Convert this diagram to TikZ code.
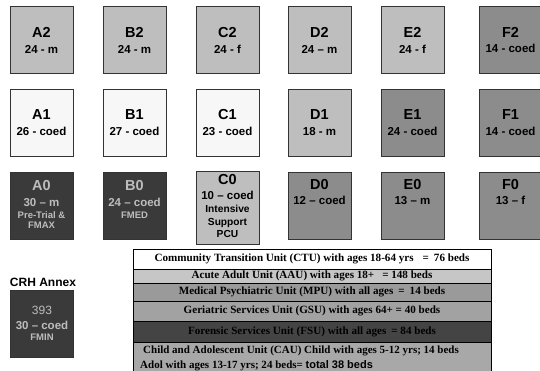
\documentclass[tikz,border=0pt]{standalone}
\usepackage{fontspec}
\setmainfont{Liberation Serif}
\setsansfont{Liberation Sans}
\usetikzlibrary{positioning}
\definecolor{paleunit}{HTML}{F7F7F7}
\definecolor{lightunit}{HTML}{BEBEBE}
\definecolor{midunit}{HTML}{8C8C8C}
\definecolor{darkunit}{HTML}{3A3A3A}
\definecolor{darktext}{HTML}{BDBDBD}
\definecolor{aaufill}{HTML}{C6C6C6}
\definecolor{mpufill}{HTML}{9A9A9A}
\definecolor{gsufill}{HTML}{A2A2A2}
\definecolor{fsufill}{HTML}{444444}
\definecolor{caufill}{HTML}{A8A8A8}
\newcommand{\unitname}{\fontsize{14.5}{14.5}\selectfont}
\newcommand{\unitnote}{\fontsize{9.5}{9.5}\selectfont}
\newcommand{\unitsmall}{\fontsize{10.2}{10.2}\selectfont}
\tikzset{
    unit/.style={draw=black!80, line width=0.8pt, minimum width=63pt, minimum height=67pt,
        inner sep=0pt, align=center, font=\sffamily\bfseries\fontsize{11.5}{12}\selectfont},
    paleu/.style={unit, fill=paleunit},
    lightu/.style={unit, fill=lightunit},
    midu/.style={unit, fill=midunit},
    darku/.style={unit, fill=darkunit, text=darktext},
    unittext/.style={inner sep=0pt, align=center, font=\sffamily\bfseries\fontsize{11.5}{12}\selectfont},
    wardrow/.style={draw=black, line width=0.8pt, minimum width=358pt, inner sep=0pt, outer sep=0pt,
        font=\rmfamily\bfseries\fontsize{11.1}{12}\selectfont}
}

\begin{document}
\begin{tikzpicture}[x=1pt, y=-1pt]
\useasboundingbox (0,0) rectangle (540,371);
\clip (0,0) rectangle (540,371);

\node[lightu] (A2) at (41.5,40) {\unitname A2\\[3.9pt]24 - m};
\node[lightu] (B2) at (134.5,40) {\unitname B2\\[3.9pt]24 - m};
\node[lightu] (C2) at (227.5,40) {\unitname C2\\[3.9pt]24 - f};
\node[lightu] (D2) at (319.5,40) {\unitname D2\\[3.9pt]24 – m};
\node[lightu] (E2) at (412.5,40) {\unitname E2\\[3.9pt]24 - f};
\node[midu] (F2) at (510.5,40) {\unitname F2\\[3.9pt]14 - coed};

\node[paleu] (A1) at (41.5,122.5) {\unitname A1\\[3.9pt]26 - coed};
\node[paleu] (B1) at (134.5,122.5) {\unitname B1\\[3.9pt]27 - coed};
\node[paleu] (C1) at (227.5,122.5) {\unitname C1\\[3.9pt]23 - coed};
\node[lightu] (D1) at (319.5,122.5) {\unitname D1\\[3.9pt]18 - m};
\node[midu] (E1) at (412.5,122.5) {\unitname E1\\[3.9pt]24 - coed};
\node[midu] (F1) at (510.5,122.5) {\unitname F1\\[3.9pt]14 - coed};

\node[darku] (A0) at (41.5,205.5) {};
\node[darku] (B0) at (134.5,205.5) {};
\node[lightu, minimum height=73pt] (C0) at (227.5,207.5) {};
\node[midu] (D0) at (319.5,205.5) {};
\node[midu] (E0) at (412.5,205.5) {};
\node[midu] (F0) at (510.5,205.5) {};
\node[unittext, text=darktext, below=8.8pt of A0.north] (A0txt)
    {\unitname A0\\[4pt]30 – m\\[0pt]\unitnote Pre-Trial \&\\[-2pt]\unitnote FMAX};
\node[unittext, text=darktext, below=8.8pt of B0.north] (B0txt)
    {\unitname B0\\[4pt]24 – coed\\[0pt]\unitnote FMED};
\node[unittext, below=3.8pt of C0.north] (C0txt)
    {\unitname C0\\[3pt]10 – coed\\[0.5pt]\unitsmall Intensive\\[1pt]\unitsmall Support\\[0pt]\unitsmall PCU};
\node[unittext, below=7.8pt of D0.north] (D0txt) {\unitname D0\\[3pt]12 – coed};
\node[unittext, below=7.8pt of E0.north] (E0txt) {\unitname E0\\[3pt]13 – m};
\node[unittext, below=7.8pt of F0.north] (F0txt) {\unitname F0\\[3pt]13 – f};

\node[font=\sffamily\bfseries\fontsize{12}{12}\selectfont, inner sep=0pt] (annex) at (43,282) {CRH Annex};
\node[darku] (CRH) at (42,323.5)
    {{\mdseries\fontsize{12}{12}\selectfont 393}\\[3pt]30 – coed\\[-1pt]\unitnote FMIN};

\node[wardrow, fill=white, minimum height=20pt] (CTU) at (312,259)
    {Community Transition Unit (CTU) with ages 18-64 yrs\hspace{9pt}=\hspace{5pt}76 beds};
\node[wardrow, fill=aaufill, minimum height=14pt, below=0pt of CTU] (AAU)
    {Acute Adult Unit (AAU) with ages 18+\hspace{8pt}= 148 beds};
\node[wardrow, fill=mpufill, minimum height=18pt, below=0pt of AAU] (MPU)
    {Medical Psychiatric Unit (MPU) with all ages\hspace{5pt}=\hspace{5pt}14 beds};
\node[wardrow, fill=gsufill, minimum height=20pt, below=0pt of MPU] (GSU)
    {Geriatric Services Unit (GSU) with ages 64+ = 40 beds};
\node[wardrow, fill=fsufill, text=black, minimum height=21pt, below=0pt of GSU] (FSU)
    {Forensic Services Unit (FSU) with all ages\hspace{5pt}= 84 beds};
\node[wardrow, fill=caufill, minimum height=36pt, below=0pt of FSU] (CAU) {};
\node[anchor=north west, inner sep=0pt, align=left, font=\rmfamily\bfseries\fontsize{11}{15}\selectfont]
    (CAUtxt) at ([xshift=7pt, yshift=-4pt]CAU.north west)
    {\hspace{3pt}Child and Adolescent Unit (CAU) Child with ages 5-12 yrs; 14 beds\\
     Adol with ages 13-17 yrs; 24 beds= {\sffamily total 38 beds}};
\end{tikzpicture}
\end{document}
